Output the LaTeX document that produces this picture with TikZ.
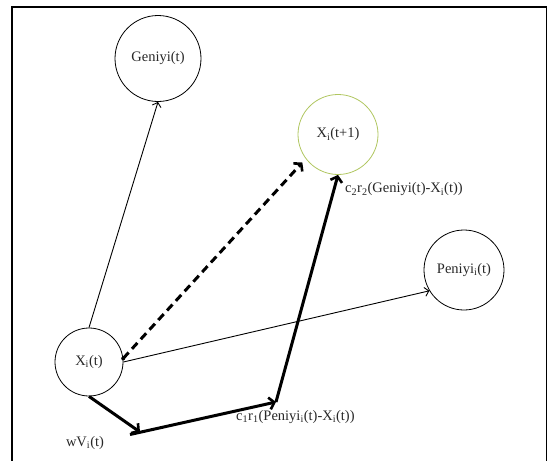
\documentclass[tikz,border=0pt]{standalone}
\usepackage{fontspec}
\setmainfont{Liberation Serif}
\usetikzlibrary{arrows.meta}
\definecolor{nextring}{RGB}{176,198,96}
\definecolor{labelgray}{RGB}{40,40,40}
\tikzset{
  state/.style={circle, draw=black, line width=0.8pt, inner sep=0pt,
    font=\fontsize{14.5}{17}\selectfont, text=labelgray},
  thinarrow/.style={line width=0.9pt, -{Straight Barb[length=4pt,width=9pt,line width=0.9pt]}},
  thickarrow/.style={line width=3pt, -{Straight Barb[length=5pt,width=12pt,line width=2.6pt]}},
  termlabel/.style={font=\fontsize{14.5}{17}\selectfont, text=labelgray, inner sep=0pt}
}
\begin{document}
\begin{tikzpicture}[x=1pt,y=-1pt]
  \useasboundingbox (0,0) rectangle (547,461);
  % open frame (no bottom edge)
  \draw[line width=2pt] (546.5,461) -- (546.5,6.5) -- (12,6.5) -- (12,461);

  % particle states
  \node[state, minimum size=86pt] (gbest) at (158,58.5) {Geniyi(t)};
  \node[state, minimum size=80pt, draw=nextring] (xnext) at (338,134.5) {X\textsubscript{i}(t+1)};
  \node[state, minimum size=80pt] (pbest) at (464,270) {Peniyi\textsubscript{i}(t)};
  \node[state, minimum size=68pt] (xcur) at (89,362) {X\textsubscript{i}(t)};

  % corner points of the velocity construction
  \coordinate (inert) at (140,432);
  \coordinate (inertback) at (130,434.5);
  \coordinate (cogn) at (276,402);

  % directions towards the best positions
  \draw[thinarrow] (xcur.north) -- (gbest.south);
  \draw[thinarrow] (xcur.east) -- (pbest.211);

  % resulting move
  \fill (xcur.6) circle (2pt);
  \draw[line width=3pt, dash pattern=on 8pt off 5pt,
        -{Straight Barb[length=5pt,width=12pt,line width=2.6pt]}, shorten >=5pt]
        (xcur.6) -- (xnext.217);

  % velocity components
  \draw[thickarrow] (xcur.south) -- (inert);
  \draw[thickarrow] (inertback) -- (cogn);
  \draw[thickarrow] (cogn) -- (xnext.south);

  % component labels
  \node[termlabel] (lblw) at (85,443) {wV\textsubscript{i}(t)};
  \node[termlabel, anchor=west] (lblc1) at (236,417) {c\textsubscript{1}r\textsubscript{1}(Peniyi\textsubscript{i}(t)-X\textsubscript{i}(t))};
  \node[termlabel, anchor=west] (lblc2) at (345,189.5) {c\textsubscript{2}r\textsubscript{2}(Geniyi(t)-X\textsubscript{i}(t))};
\end{tikzpicture}
\end{document}
